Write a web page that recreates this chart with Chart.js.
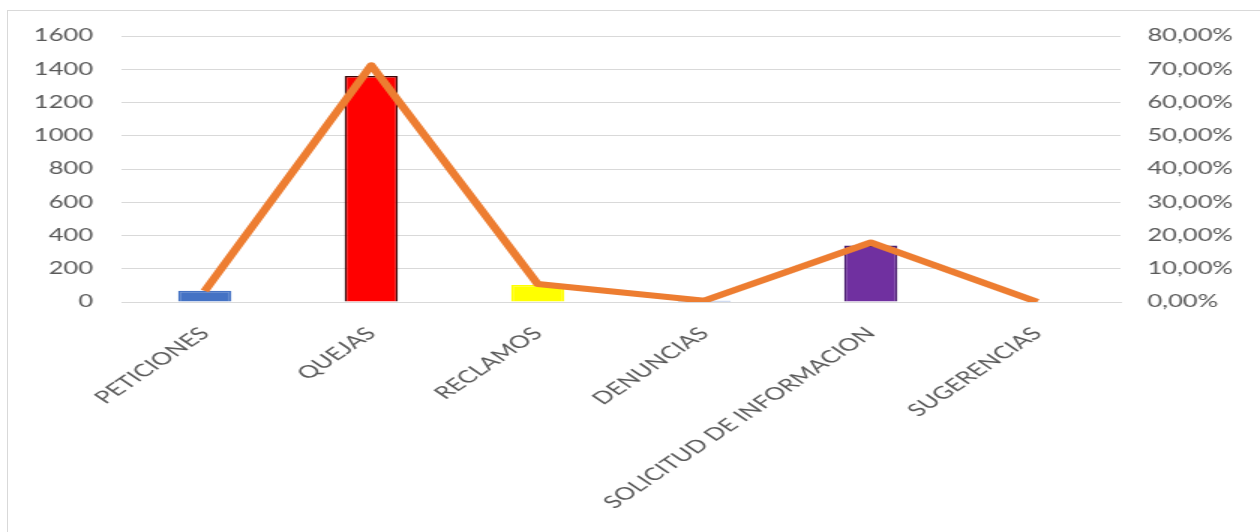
<!DOCTYPE html>
<html>
<head>
<meta charset="utf-8">
<script src="https://cdn.jsdelivr.net/npm/chart.js@4.4.1/dist/chart.umd.min.js"></script>
<style>
  html, body { margin: 0; padding: 0; background: #fff; overflow: hidden; }
  #frame {
    position: absolute; left: 7px; top: 10px;
    width: 1400px; height: 700px;
    border: 1px solid #d9d9d9;
  }
  /* the original picture is stretched sideways, so draw narrow and widen */
  #wrap {
    position: absolute; left: 0; top: 0;
    width: 840px; height: 532px;
    transform: scaleX(1.5); transform-origin: 0 0;
  }
</style>
</head>
<body>
<div id="frame"></div>
<div id="wrap"><canvas id="myChartCanvas"></canvas></div>
<script>
// Chart data
const categories = ['PETICIONES', 'QUEJAS', 'RECLAMOS', 'DENUNCIAS', 'SOLICITUD DE INFORMACION', 'SUGERENCIAS'];
const counts = [68, 1360, 102, 8, 340, 0];
const percents = [3.3, 71.2, 5.4, 0.4, 17.9, 0];
const barColors = ['#4472C4', '#FF0000', '#FFFF00', '#4472C4', '#7030A0', '#A5A5A5'];
const barBorders = ['#4472C4', '#3b0a0a', '#FFFF00', '#4472C4', '#4b2070', '#A5A5A5'];
const leftTicks = [0, 1600, 200];
const rightTicks = [0, 80, 10];

const labelColor = '#595959';
const gridColor = '#d9d9d9';
const font = { family: 'Lato', size: 17 };

Chart.defaults.font.family = 'Lato';

const config = {
  type: 'bar',
  data: {
    labels: categories,
    datasets: [
      {
        type: 'line',
        label: 'Porcentaje',
        data: percents,
        yAxisID: 'yRight',
        borderColor: '#ED7D31',
        borderWidth: 6,
        borderJoinStyle: 'round',
        pointRadius: 0,
        tension: 0,
        order: 0,
      },
      {
        type: 'bar',
        label: 'Cantidad',
        data: counts,
        yAxisID: 'yLeft',
        backgroundColor: barColors,
        borderColor: barBorders,
        borderWidth: 1.5,
        categoryPercentage: 1,
        barPercentage: 0.32,
        order: 1,
      },
    ],
  },
  options: {
    responsive: true,
    maintainAspectRatio: false,
    animation: false,
    layout: { padding: { top: 36, bottom: 0, left: 0, right: 0 } },
    plugins: {
      legend: { display: false },
      tooltip: { enabled: false },
    },
    scales: {
      x: {
        grid: { display: false, drawTicks: false },
        border: { display: true, color: gridColor },
        ticks: {
          color: labelColor,
          font: { family: 'Lato', size: 17.5 },
          minRotation: 45,
          maxRotation: 45,
          padding: 21,
          autoSkip: false,
        },
        afterFit: (scale) => { scale.height = 230; },
      },
      yLeft: {
        position: 'left',
        min: leftTicks[0],
        max: leftTicks[1],
        grid: { color: gridColor, drawTicks: false },
        border: { display: false },
        ticks: {
          stepSize: leftTicks[2],
          color: labelColor,
          font: font,
          padding: 19,
          callback: (value) => String(value), // no thousands separator
        },
        afterFit: (scale) => { scale.width = 81; },
      },
      yRight: {
        position: 'right',
        min: rightTicks[0],
        max: rightTicks[1],
        grid: { display: false, drawTicks: false },
        border: { display: false },
        ticks: {
          stepSize: rightTicks[2],
          color: labelColor,
          font: font,
          padding: 18,
          callback: (value) => value.toFixed(2).replace('.', ',') + '%',
        },
        afterFit: (scale) => { scale.width = 93; },
      },
    },
  },
};

new Chart(document.getElementById('myChartCanvas'), config);
</script>
</body>
</html>
